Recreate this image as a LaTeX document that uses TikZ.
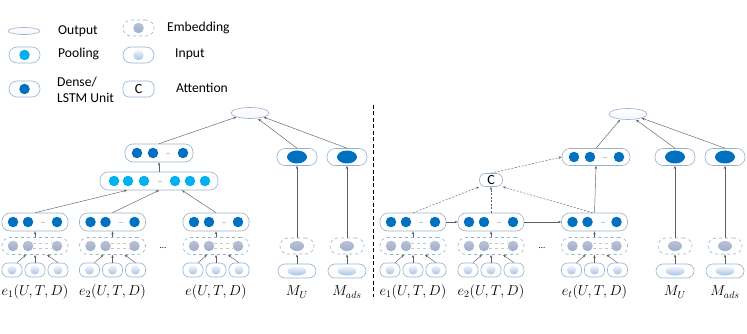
\documentclass[tikz,border=0pt]{standalone}
\usepackage{fontspec}
\setmainfont{Carlito}
\usepackage{tikz}
\usetikzlibrary{arrows.meta,shapes.geometric}
\definecolor{boxline}{RGB}{150,178,208}
\definecolor{dense}{RGB}{0,112,192}
\definecolor{pool}{RGB}{0,176,240}
\definecolor{embfill}{RGB}{160,174,202}
\definecolor{infill}{RGB}{166,194,230}
\definecolor{linkgray}{RGB}{95,95,95}

\tikzset{
  unitbox/.style={draw=boxline, line width=0.6pt, rounded corners=8pt,
    minimum width=66pt, minimum height=18pt, inner sep=0pt},
  embbox/.style={unitbox, dashed, minimum height=17pt},
  inbox/.style={draw=boxline, line width=0.6pt, rounded corners=6pt,
    minimum width=20pt, minimum height=14pt, inner sep=0pt},
  densedot/.style={circle, fill=dense, minimum size=10.5pt, inner sep=0pt},
  pooldot/.style={circle, fill=pool, minimum size=10.5pt, inner sep=0pt},
  embdot/.style={circle, top color=embfill!75, bottom color=embfill,
    minimum size=10.5pt, inner sep=0pt},
  indot/.style={circle, top color=infill!15, bottom color=infill,
    minimum size=9pt, inner sep=0pt},
  denseoval/.style={ellipse, fill=dense, minimum width=20pt, minimum height=13pt, inner sep=0pt},
  emboval/.style={ellipse, top color=embfill!75, bottom color=embfill,
    minimum width=14pt, minimum height=10pt, inner sep=0pt},
  inoval/.style={ellipse, top color=infill!15, bottom color=infill,
    minimum width=19pt, minimum height=9pt, inner sep=0pt},
  outnode/.style={ellipse, draw=boxline, line width=0.6pt, top color=white, bottom color=blue!4,
    minimum width=38pt, minimum height=11pt, inner sep=0pt},
  attnbox/.style={draw=boxline, line width=0.6pt, rounded corners=6pt,
    minimum width=23pt, minimum height=13pt, inner sep=0pt, font=\fontsize{14}{16}\selectfont},
  keytext/.style={anchor=west, inner sep=0pt, font=\fontsize{13.6}{16}\selectfont},
  mathlabel/.style={inner sep=0pt, font=\Large},
  gapline/.style={draw=black!22, line width=0.5pt},
  link/.style={draw=linkgray, line width=0.45pt, -{Stealth[length=3.2pt,width=2.4pt]}},
  dlink/.style={link, dash pattern=on 2pt off 1.5pt},
}

\begin{document}
\begin{tikzpicture}[x=1pt,y=-1pt]
  \useasboundingbox (0,0) rectangle (747,334);

  % legend
  \node[outnode, minimum width=32pt, minimum height=7pt] (key-out) at (24,31) {};
  \node[keytext] (key-out-t) at (58,31) {Output};
  \node[embbox, minimum width=31pt, minimum height=16pt] (key-emb) at (138.5,28) {};
  \node[embdot] at (key-emb) {};
  \node[keytext] (key-emb-t) at (167,28) {Embedding};
  \node[unitbox, minimum width=31pt, minimum height=16pt] (key-pool) at (24.5,55) {};
  \node[pooldot] at (key-pool) {};
  \node[keytext] (key-pool-t) at (58,54) {Pooling};
  \node[unitbox, minimum width=31pt, minimum height=16pt] (key-in) at (138.5,55) {};
  \node[indot, minimum size=10.5pt] at (key-in) {};
  \node[keytext] (key-in-t) at (175,54) {Input};
  \node[unitbox, minimum width=31pt, minimum height=16pt] (key-dense) at (24.5,89) {};
  \node[densedot] at (key-dense) {};
  \node[keytext, align=left] (key-dense-t) at (57,90) {Dense/\\LSTM Unit};
  \node[attnbox, minimum width=31pt, minimum height=16pt] (key-att) at (138.5,89) {C};
  \node[keytext] (key-att-t) at (176,88) {Attention};

  % event groups (both halves)
  \foreach \g/\x/\t in {l1/35/{$e_1(U,T,D)$}, l2/112.5/{$e_2(U,T,D)$}, l3/216/{$e(U,T,D)$},
                        r1/413/{$e_1(U,T,D)$}, r2/491/{$e_2(U,T,D)$}, r3/594.5/{$e_t(U,T,D)$}} {
    \node[unitbox] (\g-d) at (\x,222) {};
    \node[embbox] (\g-e) at (\x,246) {};
    \foreach \k/\o in {1/-22,2/-7,3/22} {
      \node[densedot] (\g-d\k) at (\x+\o,222) {};
      \node[embdot] (\g-e\k) at (\x+\o,246) {};
    }
    \draw[gapline] (\x+6,222) -- (\x+10,222);
    \draw[gapline, dashed] ([yshift=2.5pt]\g-e2.east) -- ([yshift=2.5pt]\g-e3.west);
    \draw[gapline, dashed] ([yshift=-2.5pt]\g-e2.east) -- ([yshift=-2.5pt]\g-e3.west);
    \foreach \k/\o in {1/-23,2/0,3/23} {
      \node[inbox] (\g-i\k) at (\x+\o,270) {};
      \node[indot] at (\g-i\k) {};
    }
    \draw[link] ([xshift=5pt]\g-i1.north) -- ([xshift=-9pt]\g-e.south);
    \draw[link] (\g-i2.north) -- (\g-e.south);
    \draw[link] (\g-i3.north) -- ([xshift=12pt]\g-e.south);
    \draw[link] (\g-e.north) -- (\g-d.south);
    \node[mathlabel] (\g-lab) at (\x,292) {\t};
  }
  \node[font=\small, inner sep=0pt] (l-dots) at (163,248) {\ldots};
  \node[font=\small, inner sep=0pt] (r-dots) at (542,248) {\ldots};

  % M_U / M_ads columns
  \foreach \g/\x/\t in {lu/297/{$M_U$}, la/347/{$M_{ads}$}, ru/675/{$M_U$}, ra/725/{$M_{ads}$}} {
    \node[unitbox, minimum width=40pt, minimum height=17pt] (\g-d) at (\x,157) {};
    \node[denseoval] at (\g-d) {};
    \node[embbox, minimum width=34pt, minimum height=16pt] (\g-e) at (\x,246) {};
    \node[emboval] at (\g-e) {};
    \node[unitbox, minimum width=38pt, minimum height=14pt, rounded corners=7pt] (\g-i) at (\x,271) {};
    \node[inoval] at (\g-i) {};
    \draw[link] (\g-i.north) -- (\g-e.south);
    \draw[link] (\g-e.north) -- (\g-d.south);
    \node[mathlabel] (\g-lab) at (\x,292) {\t};
  }

  % left: pooling model
  \node[unitbox, minimum width=68pt] (l-top) at (159,153) {};
  \foreach \k/\o in {1/137,2/153,3/183} \node[densedot] (l-top\k) at (\o,153) {};
  \draw[gapline] (166,153) -- (170,153);
  \node[unitbox, minimum width=118pt] (l-pool) at (159,181) {};
  \foreach \k/\o in {1/114,2/128,3/144,4/175,5/190,6/205} \node[pooldot] (l-pool\k) at (\o,181) {};
  \draw[gapline] (158,181) -- (162,181);
  \node[outnode] (l-out) at (250,113) {};

  \draw[link] (l1-d.north) -- ([xshift=-32pt]l-pool.south);
  \draw[link] (l2-d.north) -- (l-pool.south);
  \draw[link] (l3-d.north) -- ([xshift=23pt]l-pool.south);
  \draw[link] (l-pool.north) -- (l-top.south);
  \draw[link] (l-top.north) -- (l-out.south west);
  \draw[link] (lu-d.north) -- ([xshift=8pt]l-out.south);
  \draw[link] (la-d.north) -- (l-out.south east);

  % divider
  \draw[line width=1pt, dash pattern=on 4pt off 2.5pt] (373,105) -- (373,297);

  % right: LSTM with attention
  \node[unitbox, minimum width=68pt, minimum height=17pt] (r-top) at (596,157) {};
  \foreach \k/\o in {1/574,2/590,3/619} \node[densedot] (r-top\k) at (\o,157) {};
  \draw[gapline] (603,157) -- (607,157);
  \node[outnode] (r-out) at (628,114) {};
  \node[attnbox] (att) at (491,180) {C};

  \draw[link] (r1-d.east) -- (r2-d.west);
  \draw[link] (r2-d.east) -- (r3-d.west);
  \draw[dlink] (r1-d.north) -- (att.south west);
  \draw[dlink] (r2-d.north) -- (att.south);
  \draw[dlink] ([xshift=-2pt]r3-d.north) -- (att.south east);
  \draw[dlink] (att.north) -- (r-top.west);
  \draw[link] (r3-d.north) -- (r-top.south);
  \draw[link] (r-top.north) -- ([xshift=-8pt]r-out.south);
  \draw[link] (ru-d.north) -- ([xshift=8pt]r-out.south);
  \draw[link] (ra-d.north) -- (r-out.south east);
\end{tikzpicture}
\end{document}
